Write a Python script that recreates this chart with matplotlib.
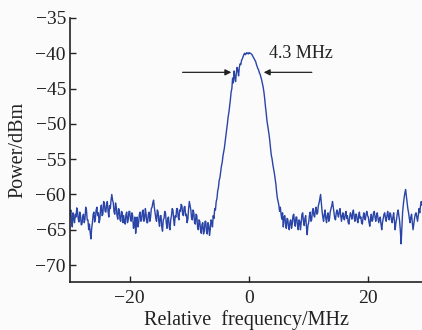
import numpy as np
import matplotlib
matplotlib.use("Agg")
import matplotlib.pyplot as plt

plt.rcParams['font.family'] = ['Liberation Serif', 'DejaVu Serif']
plt.rcParams['axes.unicode_minus'] = True

freq_start = -30.0
freq_step = 0.125
power = [
    -63.0, -62.2, -63.8, -64.6, -62.6, -63.4, -64.0, -62.8,
    -63.2, -61.9, -62.4, -63.5, -63.9, -62.5, -63.0, -64.3,
    -64.2, -63.1, -62.8, -64.0, -63.5, -61.8, -62.2, -63.6,
    -63.6, -65.0, -64.2, -65.4, -66.3, -64.8, -64.0, -62.8,
    -62.5, -63.9, -63.4, -62.2, -61.8, -63.0, -62.6, -64.0,
    -63.5, -62.0, -61.5, -63.0, -62.8, -61.0, -61.2, -62.4,
    -62.5, -61.4, -61.0, -62.4, -63.2, -61.6, -62.0, -60.8,
    -60.0, -60.8, -61.2, -62.5, -62.8, -61.2, -61.8, -63.0,
    -63.5, -62.0, -62.2, -63.6, -63.8, -62.4, -62.6, -64.0,
    -63.0, -64.0, -64.2, -62.8, -62.5, -64.0, -63.6, -62.4,
    -62.4, -63.5, -63.8, -62.6, -63.0, -64.8, -64.5, -63.2,
    -65.5, -64.2, -63.2, -64.6, -64.0, -62.8, -62.5, -63.8,
    -63.6, -62.4, -62.2, -63.8, -63.5, -62.0, -62.8, -64.0,
    -64.0, -62.8, -62.5, -63.8, -63.2, -62.0, -61.8, -61.2,
    -60.8, -61.8, -62.6, -63.4, -63.8, -62.2, -62.4, -63.8,
    -64.5, -63.0, -63.0, -64.6, -65.2, -63.6, -63.4, -62.4,
    -62.6, -64.0, -64.8, -63.4, -63.2, -64.6, -65.0, -63.6,
    -63.0, -62.0, -62.2, -63.6, -64.4, -63.0, -63.2, -62.0,
    -62.0, -63.2, -63.6, -62.2, -62.4, -61.4, -61.6, -62.8,
    -63.0, -61.8, -61.7, -63.0, -62.8, -64.0, -63.5, -62.0,
    -61.0, -61.6, -62.2, -63.4, -63.6, -62.2, -62.6, -64.0,
    -64.2, -62.8, -63.0, -64.6, -65.0, -63.6, -63.8, -65.0,
    -65.5, -64.2, -64.0, -65.6, -65.2, -63.8, -63.8, -65.2,
    -65.6, -64.0, -64.4, -65.8, -65.0, -63.6, -63.8, -64.6,
    -63.0, -63.4, -62.0, -62.2, -61.0, -60.6, -59.5, -59.0,
    -58.0, -57.6, -56.8, -56.0, -55.5, -54.6, -54.0, -53.4,
    -52.5, -51.6, -50.8, -50.0, -49.0, -48.4, -47.5, -46.6,
    -45.5, -45.0, -43.5, -44.2, -42.5, -43.4, -44.0, -42.8,
    -42.0, -42.4, -43.2, -42.0, -41.5, -41.6, -41.0, -40.8,
    -40.5, -40.2, -40.0, -40.2, -40.1, -39.9, -40.0, -40.1,
    -39.9, -40.0, -40.0, -40.1, -40.2, -40.4, -40.6, -40.8,
    -41.0, -41.2, -41.6, -41.9, -42.2, -42.4, -42.8, -43.0,
    -43.4, -43.8, -44.3, -44.8, -45.5, -46.4, -47.5, -48.4,
    -49.5, -50.2, -51.0, -51.6, -52.5, -53.6, -54.5, -55.0,
    -55.8, -56.4, -57.0, -57.8, -58.5, -59.6, -60.5, -61.0,
    -61.5, -62.4, -61.8, -62.8, -63.5, -62.6, -64.6, -63.2,
    -63.0, -64.2, -64.8, -63.4, -63.5, -64.6, -65.0, -63.8,
    -63.6, -64.8, -64.2, -63.0, -62.8, -64.0, -64.5, -63.2,
    -63.2, -64.4, -65.0, -63.6, -63.8, -65.0, -64.0, -62.8,
    -62.6, -63.8, -64.4, -63.4, -63.0, -64.6, -65.7, -64.4,
    -64.0, -63.0, -62.5, -63.8, -63.6, -62.4, -62.0, -63.0,
    -63.2, -62.2, -61.8, -62.8, -62.6, -61.6, -61.2, -60.6,
    -60.0, -61.2, -62.4, -63.2, -63.8, -62.8, -62.2, -63.4,
    -64.0, -63.0, -62.6, -63.8, -63.4, -62.4, -62.0, -61.6,
    -61.0, -61.8, -62.5, -63.4, -63.6, -62.6, -62.2, -62.8,
    -63.2, -62.4, -62.0, -63.0, -63.8, -63.0, -62.6, -63.4,
    -63.6, -62.8, -62.4, -63.4, -63.0, -64.0, -64.2, -63.2,
    -62.6, -63.0, -63.5, -62.6, -62.2, -63.2, -63.8, -62.8,
    -62.8, -63.6, -64.0, -63.0, -62.5, -63.4, -63.2, -64.0,
    -64.2, -63.2, -62.6, -63.4, -63.6, -62.8, -62.4, -63.0,
    -63.2, -64.0, -64.5, -63.4, -62.8, -63.8, -63.6, -62.6,
    -62.4, -63.2, -63.8, -63.0, -62.6, -63.4, -64.0, -63.4,
    -63.2, -64.2, -65.0, -64.0, -63.4, -62.8, -62.6, -63.4,
    -63.8, -63.0, -62.4, -63.2, -63.6, -62.6, -62.8, -63.6,
    -64.0, -63.2, -62.6, -63.8, -65.0, -64.0, -63.4, -62.6,
    -62.2, -63.0, -63.8, -65.2, -67.0, -64.6, -62.5, -61.4,
    -60.5, -59.8, -59.3, -60.2, -61.0, -62.0, -62.6, -63.4,
    -64.0, -63.2, -62.8, -64.0, -65.0, -64.2, -63.4, -62.8,
    -62.6, -63.2, -63.8, -63.0, -62.0, -62.6, -61.6, -61.0,
    -61.5,
]
freq = freq_start + freq_step * np.arange(len(power))

x_ticks = [-20, 0, 20]
y_ticks = [-70, -65, -60, -55, -50, -45, -40, -35]
bw_label = "4.3 MHz"
bw_left = -2.5
bw_right = 2.0
bw_level = -42.7

bg = '#fbfbfb'
ink = '#222222'
fig = plt.figure(figsize=(4.22, 3.30), dpi=100, facecolor=bg)
ax = fig.add_axes([0.166, 0.1455, 0.834, 0.80], facecolor=bg)
ax.plot(freq, power, color='#2a44a8', lw=1.0)
ax.set_xlim(-30, 29)
ax.set_ylim(-72.4, -35)
ax.set_xticks(x_ticks)
ax.set_yticks(y_ticks)
ax.tick_params(direction='in', length=4, width=1, labelsize=14, colors=ink)
ax.tick_params(axis='x', pad=6)
ax.tick_params(axis='y', pad=3)
for s in ['top', 'right']:
    ax.spines[s].set_visible(False)
for s in ['left', 'bottom']:
    ax.spines[s].set_linewidth(1.2)
    ax.spines[s].set_color(ink)
ax.set_xlabel('Relative  frequency/MHz', fontsize=14.5, color=ink, labelpad=2)
ax.set_ylabel('Power/dBm', fontsize=14.5, color=ink, labelpad=6)

ax.annotate('', xy=(bw_left, bw_level), xytext=(-11.6, bw_level),
            arrowprops=dict(arrowstyle='-|>', color=ink, lw=0.9, mutation_scale=9))
ax.annotate('', xy=(bw_right, bw_level), xytext=(11.0, bw_level),
            arrowprops=dict(arrowstyle='-|>', color=ink, lw=0.9, mutation_scale=9))
ax.text(3.3, -41.3, bw_label, fontsize=13, color=ink, ha='left', va='bottom')

fig.savefig('out.png', dpi=100, facecolor=bg)
